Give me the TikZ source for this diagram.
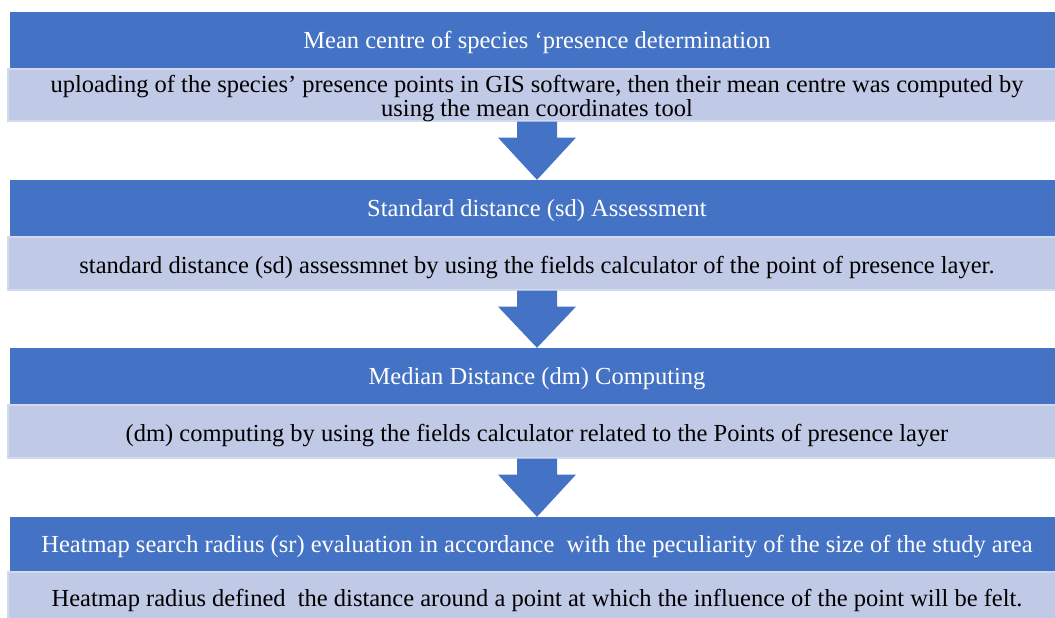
\documentclass[tikz,border=0pt]{standalone}
\usepackage{fontspec}
\setmainfont{Liberation Serif}
\usetikzlibrary{calc}
\definecolor{hdr}{RGB}{68,114,196}
\definecolor{lt}{RGB}{192,201,229}
\definecolor{ltb}{RGB}{210,218,238}
\begin{document}
\begin{tikzpicture}[x=1pt,y=-1pt,
  head/.style={fill=hdr,draw=none,inner sep=0pt,minimum width=1054pt,minimum height=57pt},
  body/.style={fill=lt,draw=ltb,line width=1.2pt,inner sep=0pt,minimum width=1058pt,minimum height=52pt},
  htext/.style={text=white,inner sep=0pt,font=\fontsize{24.5}{24}\selectfont},
  btext/.style={text=black,inner sep=0pt,align=center,font=\fontsize{24.5}{24}\selectfont},
  downarrow/.style={fill=hdr,draw=none}]
\useasboundingbox (0,0) rectangle (1055,618);
\node[head] (h1) at (537,40.5) {};
\node[body] (b1) at (537,95) {};
\node[head] (h2) at (537,208.5) {};
\node[body,minimum height=53pt] (b2) at (537,263.5) {};
\node[head] (h3) at (537,376.5) {};
\node[body,minimum height=53pt] (b3) at (537,431.5) {};
\node[head,minimum height=55pt] (h4) at (537,544.5) {};
\node[body,minimum height=48pt] (b4) at (537,596) {};
\node[htext] (t1) at ($(h1)+(0,2)$) {Mean centre of species ‘presence determination};
\node[btext] (u1) at ($(b1)+(0,4)$) {uploading of the species’ presence points in GIS software, then their mean centre was computed by\\using the mean coordinates tool};
\node[htext] (t2) at ($(h2)+(0,2)$) {Standard distance (sd) Assessment};
\node[btext] (u2) at ($(b2)+(0,4)$) {standard distance (sd) assessmnet by using the fields calculator of the point of presence layer.};
\node[htext] (t3) at ($(h3)+(0,2)$) {Median Distance (dm) Computing};
\node[btext] (u3) at ($(b3)+(0,4)$) {(dm) computing by using the fields calculator related to the Points of presence layer};
\node[htext] (t4) at ($(h4)+(0,2)$) {Heatmap search radius (sr) evaluation in accordance\ \ with the peculiarity of the size of the study area};
\node[btext] (u4) at ($(b4)+(0,4)$) {Heatmap radius defined\ \ the distance around a point at which the influence of the point will be felt.};
\foreach \a/\b in {b1/h2,b2/h3,b3/h4}{
  \fill[downarrow] ($(\a.south)+(-20,0)$) -- ($(\a.south)+(-20,16)$) -- ($(\a.south)+(-39,16)$)
    -- (\b.north) -- ($(\a.south)+(39,16)$) -- ($(\a.south)+(20,16)$) -- ($(\a.south)+(20,0)$) -- cycle;
}
\end{tikzpicture}
\end{document}
